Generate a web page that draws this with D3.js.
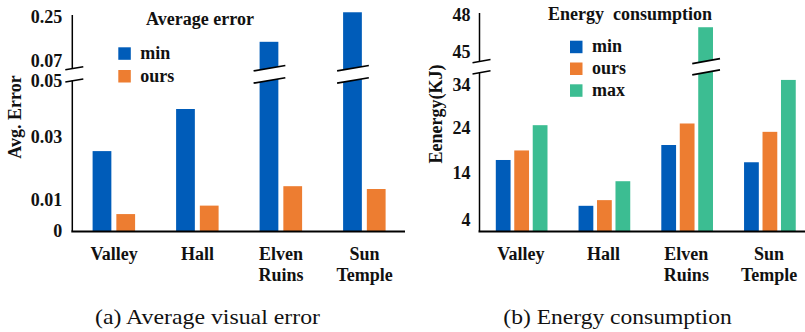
<!DOCTYPE html>
<html>
<head>
<meta charset="utf-8">
<script src="https://cdn.jsdelivr.net/npm/d3@7"></script>
<style>
  body { margin: 0; background: #fff; }
  svg text { font-family: "Times New Roman", "Liberation Serif", Tinos, serif; }
</style>
</head>
<body>
<svg id="fig" width="805" height="332" font-family="Liberation Serif"></svg>
<script>
// ---- data ----
const categories = ["Valley", "Hall", "Elven Ruins", "Sun Temple"];

const errorSeries = ["min", "ours"];
const errorMin  = [0.0255, 0.040, 0.148, 0.268];
const errorOurs = [0.0054, 0.0081, 0.0143, 0.0134];
const errorTicksLow  = [0, 0.01, 0.03, 0.05];
const errorTicksHigh = [0.07, 0.25];

const energySeries = ["min", "ours", "max"];
const energyMin  = [16.8, 7.0, 20.1, 16.3];
const energyOurs = [18.9, 8.2, 24.9, 23.0];
const energyMax  = [24.5, 12.2, 47.0, 35.2];
const energyTicksLow  = [4, 14, 24, 34];
const energyTicksHigh = [45, 48];

const colors = { min: "#005cb9", ours: "#ed7d31", max: "#3cbd92" };

const svg = d3.select("#fig");
const FONT = 18;

// Draws one bar panel with a broken value axis.
function drawPanel(cfg) {
  const g = svg.append("g");
  const base = cfg.baseY;

  const x0 = d3.scaleBand().domain(categories).range(cfg.xRange);
  const x1 = d3.scaleBand().domain(cfg.series).range(cfg.innerRange).paddingInner(cfg.innerPad);

  const yLow = d3.scaleLinear().domain(cfg.lowDomain).range(cfg.lowRange);
  const yHigh = d3.scaleLinear().domain(cfg.highDomain).range(cfg.highRange);
  const lowMax = yLow.invert(cfg.breakLowY);
  const yOf = v => (v <= lowMax ? yLow(v) : yHigh(v));

  // bars
  const rows = [];
  categories.forEach((c, i) => {
    cfg.series.forEach(s => rows.push({ c, s, v: cfg.values[s][i] }));
  });

  g.selectAll("rect.bar").data(rows).join("rect")
    .attr("class", "bar")
    .attr("x", d => x0(d.c) + x1(d.s))
    .attr("width", x1.bandwidth())
    .attr("y", d => yOf(d.v))
    .attr("height", d => base - yOf(d.v))
    .attr("fill", d => colors[d.s]);

  // break marks on bars that run into the upper segment
  const slope = cfg.slope;
  const cutU = cfg.breakHighY, cutL = cfg.breakLowY;
  rows.filter(d => d.v > lowMax).forEach(d => {
    const bx = x0(d.c) + x1(d.s), bw = x1.bandwidth();
    const xm = bx + bw / 2;
    const yAt = (yc, x) => yc - slope * (x - xm);
    g.append("polygon")
      .attr("points", [
        [bx - 1, yAt(cutU, bx - 1)], [bx + bw + 1, yAt(cutU, bx + bw + 1)],
        [bx + bw + 1, yAt(cutL, bx + bw + 1)], [bx - 1, yAt(cutL, bx - 1)]
      ].map(p => p.join(",")).join(" "))
      .attr("fill", "#fff");
    [cutU, cutL].forEach(yc => {
      const xl = bx - 6, xr = bx + bw + 7;
      g.append("line")
        .attr("x1", xl).attr("y1", yAt(yc, xl))
        .attr("x2", xr).attr("y2", yAt(yc, xr))
        .attr("stroke", "#000").attr("stroke-width", 1.7);
    });
  });

  // value axis: two segments with a break
  const ax = cfg.xRange[0];
  g.append("line").attr("x1", ax).attr("x2", ax)
    .attr("y1", cfg.highTopY).attr("y2", cutU)
    .attr("stroke", "#000").attr("stroke-width", 1.5);
  g.append("line").attr("x1", ax).attr("x2", ax)
    .attr("y1", cutL).attr("y2", base)
    .attr("stroke", "#000").attr("stroke-width", 1.5);
  [cutU, cutL].forEach(yc => {
    const xl = ax - 7, xr = ax + 11;
    g.append("line")
      .attr("x1", xl).attr("y1", yc + slope * (ax - xl) + 0.3)
      .attr("x2", xr).attr("y2", yc - slope * (xr - ax) + 0.3)
      .attr("stroke", "#000").attr("stroke-width", 1.5);
  });

  const styleAxis = sel => {
    sel.select(".domain").remove();
    sel.selectAll(".tick line").remove();
    sel.attr("font-family", null).attr("font-size", null);
    sel.selectAll("text")
      .attr("font-size", FONT).attr("font-weight", "bold")
      .attr("fill", "#111").attr("dy", "0.33em");
  };
  g.append("g").attr("transform", `translate(${ax},0)`)
    .call(d3.axisLeft(yLow).tickValues(cfg.ticksLow).tickSize(0)
      .tickPadding(cfg.tickPad).tickFormat(cfg.fmt))
    .call(styleAxis);
  g.append("g").attr("transform", `translate(${ax},0)`)
    .call(d3.axisLeft(yHigh).tickValues(cfg.ticksHigh).tickSize(0)
      .tickPadding(cfg.tickPad).tickFormat(cfg.fmt))
    .call(styleAxis);

  // category axis
  g.append("line")
    .attr("x1", ax - 1).attr("x2", cfg.axisEnd)
    .attr("y1", base + 0.5).attr("y2", base + 0.5)
    .attr("stroke", "#000").attr("stroke-width", 2.2);

  const cat = g.selectAll("text.cat").data(categories).join("text")
    .attr("class", "cat")
    .attr("text-anchor", "middle")
    .attr("font-size", FONT).attr("font-weight", "bold").attr("fill", "#111");
  cat.each(function (c) {
    const t = d3.select(this);
    c.split(" ").forEach((w, k) => {
      t.append("tspan")
        .attr("x", x0(c) + x0.bandwidth() / 2)
        .attr("y", 260 + k * 20.7)
        .text(w);
    });
  });

  // value axis title
  g.append("text")
    .attr("transform", `translate(${cfg.yTitleX},${cfg.yTitleY}) rotate(-90)`)
    .attr("text-anchor", "middle")
    .attr("font-size", FONT).attr("font-weight", "bold").attr("fill", "#111")
    .text(cfg.yTitle);

  // chart title
  g.append("text")
    .attr("x", cfg.titleX).attr("y", cfg.titleY)
    .attr("text-anchor", "middle")
    .attr("font-size", FONT).attr("font-weight", "bold").attr("fill", "#111")
    .style("white-space", "pre")
    .text(cfg.title);

  // legend
  const lg = g.selectAll("g.leg").data(cfg.series).join("g")
    .attr("class", "leg")
    .attr("transform", (d, i) => `translate(${cfg.legX},${cfg.legY + i * cfg.legStep})`);
  lg.append("rect").attr("x", 0).attr("y", -12).attr("width", 12.5).attr("height", 12.5)
    .attr("fill", d => colors[d]);
  lg.append("text").attr("x", 22).attr("y", -0.5)
    .attr("font-size", FONT).attr("font-weight", "bold").attr("fill", "#111")
    .text(d => d);

  // caption
  svg.append("text")
    .attr("x", cfg.capX).attr("y", 324.3)
    .attr("font-size", 22).attr("fill", "#111")
    .attr("textLength", cfg.capW).attr("lengthAdjust", "spacingAndGlyphs")
    .text(cfg.caption);
}

drawPanel({
  series: errorSeries,
  values: { min: errorMin, ours: errorOurs },
  xRange: [72.3, 406.3], axisEnd: 405,
  innerRange: [20.3, 62.8], innerPad: 0.21,
  baseY: 231,
  lowDomain: [0, 0.03, 0.05], lowRange: [231, 137, 81],
  highDomain: [0.07, 0.25], highRange: [61, 16.7],
  breakLowY: 80.5, breakHighY: 68.3, highTopY: 15,
  slope: 0.17,
  ticksLow: errorTicksLow, ticksHigh: errorTicksHigh,
  fmt: d => String(d), tickPad: 10,
  yTitle: "Avg. Error", yTitleX: 20.5, yTitleY: 117,
  title: "Average error", titleX: 200, titleY: 25,
  legX: 118.3, legY: 59.3, legStep: 22.7,
  caption: "(a) Average visual error", capX: 95, capW: 225
});

drawPanel({
  series: energySeries,
  values: { min: energyMin, ours: energyOurs, max: energyMax },
  xRange: [479.5, 810.5], axisEnd: 806,
  innerRange: [16.3, 68], innerPad: 0.2,
  baseY: 231,
  lowDomain: [1.7, 4, 14, 24, 34], lowRange: [231, 220, 172.7, 127.3, 85],
  highDomain: [45, 48], highRange: [51.7, 15],
  breakLowY: 72.5, breakHighY: 61.2, highTopY: 13,
  slope: 0.18,
  ticksLow: energyTicksLow, ticksHigh: energyTicksHigh,
  fmt: d => String(d), tickPad: 9,
  yTitle: "Eenergy(KJ)", yTitleX: 442, yTitleY: 114,
  title: "Energy  consumption", titleX: 630, titleY: 20,
  legX: 570, legY: 52.7, legStep: 21.8,
  caption: "(b) Energy consumption", capX: 503.3, capW: 228.4
});
</script>
</body>
</html>
